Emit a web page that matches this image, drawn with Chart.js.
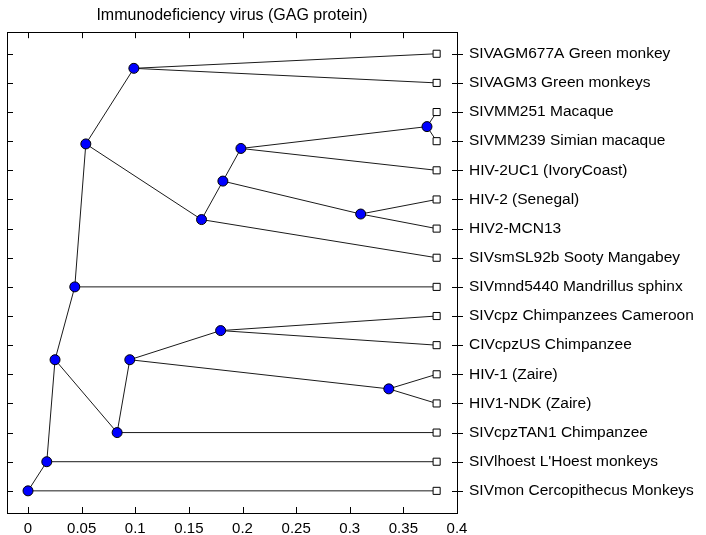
<!DOCTYPE html>
<html>
<head>
<meta charset="utf-8">
<script src="https://cdn.jsdelivr.net/npm/chart.js@4.4.0/dist/chart.umd.min.js"></script>
<style>
  html, body { margin: 0; background: #fff; }
  #wrap { width: 706px; height: 535px; }
</style>
</head>
<body>
<div id="wrap"><canvas id="tree"></canvas></div>
<script>
// Phylogenetic tree (GAG protein) drawn as a scatter chart:
// slanted parent->child edges, blue internal nodes, square leaves.

const TITLE = "Immunodeficiency virus (GAG protein)";

// leaves, top to bottom (row 16 down to row 1)
const LEAVES = [
  "SIVAGM677A Green monkey",
  "SIVAGM3 Green monkeys",
  "SIVMM251 Macaque",
  "SIVMM239 Simian macaque",
  "HIV-2UC1 (IvoryCoast)",
  "HIV-2 (Senegal)",
  "HIV2-MCN13",
  "SIVsmSL92b Sooty Mangabey",
  "SIVmnd5440 Mandrillus sphinx",
  "SIVcpz Chimpanzees Cameroon",
  "CIVcpzUS Chimpanzee",
  "HIV-1 (Zaire)",
  "HIV1-NDK (Zaire)",
  "SIVcpzTAN1 Chimpanzee",
  "SIVlhoest L'Hoest monkeys",
  "SIVmon Cercopithecus Monkeys",
];
const LEAF_PARENT = ["A", "A", "B", "B", "D", "G", "G", "F", "H", "I", "I", "L", "L", "M", "N", "O"];
const LEAF_X = 0.381;

// internal nodes
const NODE_IDS    = ["O", "N", "J", "H", "M", "C", "A", "F", "E", "D", "B", "G", "K", "I", "L"];
const NODE_X      = [0, 0.0175, 0.0252, 0.0436, 0.0831, 0.0539, 0.0987, 0.1618, 0.1817, 0.1985, 0.372, 0.3102, 0.0949, 0.1796, 0.3364];
const NODE_Y      = [1, 2, 5.5, 8, 3, 12.906, 15.5, 10.31, 11.63, 12.75, 13.5, 10.5, 5.5, 6.5, 4.5];
const NODE_PARENT = [null, "O", "N", "J", "J", "H", "C", "C", "F", "E", "D", "E", "M", "K", "K"];

const X_TICKS = [0, 0.05, 0.1, 0.15, 0.2, 0.25, 0.3, 0.35, 0.4];
const X_LABELS = ["0", "0.05", "0.1", "0.15", "0.2", "0.25", "0.3", "0.35", "0.4"];

const FONT = "'Liberation Sans', Arial, sans-serif";

function nodePoint(id) {
  const i = NODE_IDS.indexOf(id);
  return { x: NODE_X[i], y: NODE_Y[i] };
}
function leafRow(i) { return LEAVES.length - i; }

const nodePoints = NODE_IDS.map((id) => nodePoint(id));
const leafPoints = LEAVES.map((_, i) => ({ x: LEAF_X, y: leafRow(i) }));

// edges as one polyline broken by null gaps
const edgePoints = [];
NODE_IDS.forEach((id, i) => {
  if (!NODE_PARENT[i]) return;
  edgePoints.push(nodePoint(NODE_PARENT[i]), nodePoint(id), { x: null, y: null });
});
LEAVES.forEach((_, i) => {
  edgePoints.push(nodePoint(LEAF_PARENT[i]), leafPoints[i], { x: null, y: null });
});

// inward tick marks on all four sides of the frame
const frameTicks = {
  id: "frameTicks",
  afterDraw(chart) {
    const { ctx, chartArea: a, scales: { x, y } } = chart;
    ctx.save();
    ctx.strokeStyle = "#000";
    ctx.lineWidth = 1;
    ctx.beginPath();
    x.ticks.forEach((t) => {
      const px = Math.round(x.getPixelForValue(t.value)) + 0.5;
      ctx.moveTo(px, a.bottom); ctx.lineTo(px, a.bottom - 6);
      ctx.moveTo(px, a.top); ctx.lineTo(px, a.top + 6);
    });
    y.ticks.forEach((t) => {
      const py = Math.round(y.getPixelForValue(t.value)) + 0.5;
      ctx.moveTo(a.left, py); ctx.lineTo(a.left + 6, py);
      ctx.moveTo(a.right - 5, py); ctx.lineTo(a.right + 6, py);
    });
    ctx.stroke();
    ctx.restore();
  },
};

const X_MIN = -0.0196, X_MAX = 0.4;
const Y_MIN = 0.24, Y_MAX = 16.74;

new Chart(document.getElementById("tree"), {
  type: "scatter",
  data: {
    datasets: [
      {
        label: "nodes",
        data: nodePoints,
        order: 1,
        pointRadius: 5,
        pointBackgroundColor: "#0000ff",
        pointBorderColor: "#000",
        pointBorderWidth: 1,
      },
      {
        label: "leaves",
        data: leafPoints,
        order: 2,
        pointStyle: "rect",
        pointRadius: 5,
        pointBackgroundColor: "#fff",
        pointBorderColor: "#000",
        pointBorderWidth: 1,
      },
      {
        label: "edges",
        data: edgePoints,
        order: 3,
        showLine: true,
        spanGaps: false,
        pointRadius: 0,
        borderColor: "#1a1a1a",
        borderWidth: 1,
      },
    ],
  },
  options: {
    responsive: true,
    maintainAspectRatio: false,
    animation: false,
    layout: { padding: { left: 7, top: 0, right: 0, bottom: 0 } },
    plugins: {
      legend: { display: false },
      tooltip: { enabled: false },
      title: {
        display: true,
        text: TITLE,
        fullSize: false,
        color: "#000",
        font: { family: FONT, size: 16, weight: "normal" },
        padding: { top: 6, bottom: 7 },
      },
    },
    scales: {
      x: {
        type: "linear",
        position: "bottom",
        min: X_MIN,
        max: X_MAX,
        afterBuildTicks: (s) => { s.ticks = X_TICKS.map((v) => ({ value: v })); },
        afterFit: (s) => { s.height = 22; },
        grid: { display: false, drawTicks: false },
        border: { display: true, color: "#000", width: 1 },
        ticks: {
          autoSkip: false,
          maxRotation: 0,
          padding: 7,
          color: "#000",
          font: { family: FONT, size: 15 },
          callback: (v) => X_LABELS[X_TICKS.indexOf(v)],
        },
      },
      x2: {
        type: "linear",
        position: "top",
        min: X_MIN,
        max: X_MAX,
        afterFit: (s) => { s.height = 0; },
        grid: { display: false, drawTicks: false },
        border: { display: true, color: "#000", width: 1 },
        ticks: { display: false },
      },
      y: {
        type: "linear",
        position: "right",
        min: Y_MIN,
        max: Y_MAX,
        afterBuildTicks: (s) => { s.ticks = LEAVES.map((_, i) => ({ value: leafRow(i) })); },
        afterFit: (s) => { s.width = 249; },
        grid: { display: false, drawTicks: false },
        border: { display: true, color: "#000", width: 1 },
        ticks: {
          autoSkip: false,
          padding: 12,
          color: "#000",
          font: { family: FONT, size: 15.5 },
          callback: (v) => LEAVES[LEAVES.length - v],
        },
      },
      y2: {
        type: "linear",
        position: "left",
        min: Y_MIN,
        max: Y_MAX,
        afterFit: (s) => { s.width = 0; },
        grid: { display: false, drawTicks: false },
        border: { display: true, color: "#000", width: 1 },
        ticks: { display: false },
      },
    },
  },
  plugins: [frameTicks],
});
</script>
</body>
</html>
